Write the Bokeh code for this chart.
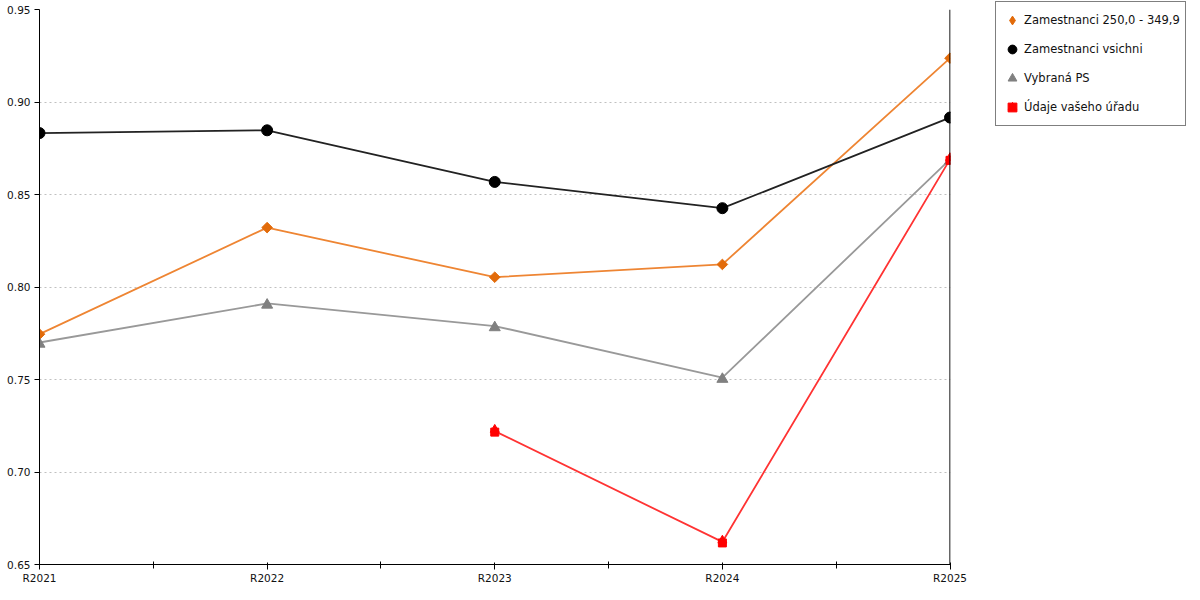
import math
from bokeh.plotting import figure
from bokeh.models import (Range1d, FixedTicker, PrintfTickFormatter, Legend, LegendItem,
                          ColumnDataSource, Span)
from bokeh.transform import dodge
from bokeh.embed import file_html
from bokeh.resources import INLINE

NaN = float("nan")

# ---- data ----
years = ["R2021", "R2022", "R2023", "R2024", "R2025"]
zam_250 = [0.7745, 0.8321, 0.8053, 0.8122, 0.9237]
zam_all = [0.8832, 0.8847, 0.8568, 0.8426, 0.8916]
vybrana_ps = [0.7700, 0.7911, 0.7789, 0.7510, 0.8690]
udaje_uradu = [NaN, NaN, 0.7221, 0.6622, 0.8690]
y_ticks = [0.65, 0.70, 0.75, 0.80, 0.85, 0.90, 0.95]
series_names = ["Zamestnanci 250,0 - 349,9", "Zamestnanci vsichni",
                "Vybraná PS", "Údaje vašeho úřadu"]

idx = list(range(len(years)))
src = ColumnDataSource(dict(x=idx, zam_250=zam_250, zam_all=zam_all,
                            vybrana_ps=vybrana_ps, udaje_uradu=udaje_uradu))

FONT = "DejaVu Sans"
FRAME_LEFT, FRAME_TOP = 39, 9
FRAME_W, FRAME_H = 911, 555
y0, y1 = y_ticks[0], y_ticks[-1]
PX = (y1 - y0) / FRAME_H  # data units per screen pixel (for marker shaping)
# end of x range chosen so the last category sits on a half pixel (edge line)
x_end = idx[-1] * FRAME_W / (FRAME_W - 0.5)

p = figure(frame_width=FRAME_W, frame_height=FRAME_H,
           x_range=Range1d(idx[0], x_end), y_range=Range1d(y0, y1),
           output_backend="svg", toolbar_location=None,
           min_border_left=FRAME_LEFT, min_border_top=FRAME_TOP, min_border_bottom=20,
           min_border_right=1184 - FRAME_LEFT - FRAME_W)
p.outline_line_color = None
p.background_fill_color = "white"
p.border_fill_color = "white"

# axes
xa = p.xaxis[0]
xa.ticker = FixedTicker(ticks=idx, minor_ticks=[i + 0.5 for i in idx[:-1]])
xa.major_label_overrides = {i: y for i, y in zip(idx, years)}
xa.major_tick_in = 2
xa.major_tick_out = 5
xa.minor_tick_in = 3
xa.minor_tick_out = 4
xa.minor_tick_line_color = "black"
xa.major_tick_line_color = "black"
xa.axis_line_color = "black"
xa.major_label_standoff = 2
xa.major_label_text_font = FONT
xa.major_label_text_font_size = "10.5px"
xa.major_label_text_color = "#111111"

ya = p.yaxis[0]
ya.ticker = FixedTicker(ticks=y_ticks)
ya.formatter = PrintfTickFormatter(format="%.2f")
ya.major_tick_in = 0
ya.major_tick_out = 5
ya.minor_tick_line_color = None
ya.major_tick_line_color = "black"
ya.axis_line_color = "black"
ya.major_label_standoff = 4
ya.major_label_text_font = FONT
ya.major_label_text_font_size = "10.5px"
ya.major_label_text_color = "#111111"

p.xgrid.visible = False
p.ygrid.grid_line_color = "#c0c0c0"
p.ygrid.grid_line_dash = "2 3"
p.ygrid.grid_line_width = 1

# right edge line at the last category
p.add_layout(Span(location=idx[-1], dimension="height", line_color="black", line_width=1.2))

# series
ORANGE_L, ORANGE_M = "#EE8533", "#E26B0A"
BLACK_L, BLACK_M = "#222222", "#000000"
GRAY_L, GRAY_M = "#999999", "#808080"
RED_L, RED_M = "#FF3333", "#FF0000"

p.line("x", "zam_250", source=src, line_color=ORANGE_L, line_width=1.8)
p.line("x", "zam_all", source=src, line_color=BLACK_L, line_width=1.8)
p.line("x", "vybrana_ps", source=src, line_color=GRAY_L, line_width=1.8)
p.line("x", "udaje_uradu", source=src, line_color=RED_L, line_width=1.8)

p.scatter("x", "zam_250", source=src, marker="square", angle=math.pi / 4,
          size=7.5, fill_color=ORANGE_M, line_color=ORANGE_M)
r_black = p.scatter("x", "zam_all", source=src, marker="circle", size=11,
                    fill_color=BLACK_M, line_color=BLACK_M)
r_gray = p.scatter("x", dodge("vybrana_ps", -1.5 * PX, range=p.y_range), source=src,
                   marker="triangle", size=11, fill_color=GRAY_M, line_color=GRAY_M)
r_red_sq = p.scatter("x", dodge("udaje_uradu", -1.0 * PX, range=p.y_range), source=src,
                     marker="square", size=8, fill_color=RED_M, line_color=RED_M)
r_red_tri = p.scatter("x", dodge("udaje_uradu", 1.5 * PX, range=p.y_range), source=src,
                      marker="triangle", size=9, fill_color=RED_M, line_color=RED_M)

# legend swatch for the diamond: zero-size in the plot, drawn only in the legend
sw_orange = p.scatter("x", "zam_250", source=src, marker="diamond", size=0,
                      fill_color=ORANGE_M, line_color=ORANGE_M)

items = [
    LegendItem(label=series_names[0], renderers=[sw_orange]),
    LegendItem(label=series_names[1], renderers=[r_black]),
    LegendItem(label=series_names[2], renderers=[r_gray]),
    LegendItem(label=series_names[3], renderers=[r_red_sq, r_red_tri]),
]
PAD, GW, GH, SP = 5, 22, 26, 3
LEG_H = 4 * GH + 3 * SP + 2 * PAD
legend = Legend(items=items, location=(45, FRAME_H + FRAME_TOP - 3 - LEG_H), margin=0,
                glyph_width=GW, glyph_height=GH, label_standoff=1, padding=PAD, spacing=SP,
                label_text_font=FONT, label_text_font_size="11.5px",
                label_text_color="#111111",
                border_line_color="black", border_line_width=1,
                background_fill_color="white", background_fill_alpha=1.0)
p.add_layout(legend, "right")

open("out.html", "w").write(file_html(p, INLINE))
